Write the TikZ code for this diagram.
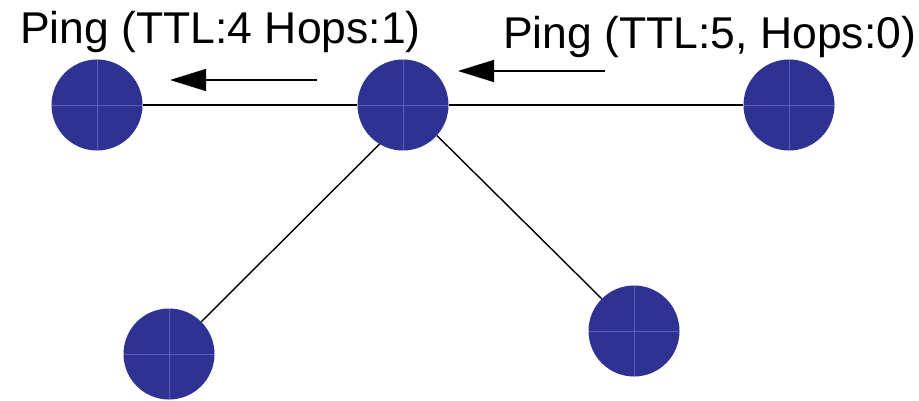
\documentclass[tikz,border=0pt]{standalone}
\usepackage{fontspec}
\setmainfont{Liberation Sans}
\usetikzlibrary{arrows.meta}
\definecolor{peerblue}{RGB}{46,50,146}
\definecolor{peercross}{RGB}{92,96,180}
\tikzset{
  peer/.style={circle,fill=peerblue,minimum size=91pt,inner sep=0pt,
    path picture={
      \draw[peercross,line width=.8pt]
        (path picture bounding box.north) -- (path picture bounding box.south)
        (path picture bounding box.west) -- (path picture bounding box.east);}},
  link/.style={line width=1.4pt},
  msg/.style={line width=1.4pt,-{Triangle[length=36pt,width=22pt]}},
  pinglabel/.style={anchor=base west,inner sep=0pt,font=\fontsize{44.5}{44.5}\selectfont}
}
\begin{document}
\begin{tikzpicture}[x=1pt,y=1pt]
  \useasboundingbox (0,0) rectangle (919,400);
  \def\top{295}
  % the peers
  \node[peer] (left) at (97,\top) {};
  \node[peer] (hub) at (403,\top) {};
  \node[peer] (right) at (789,\top) {};
  \node[peer] (bl) at (169,46) {};
  \node[peer] (br) at (634,69) {};
  % links between peers
  \draw[link] (left.east) -- (hub.west);
  \draw[link] (hub.east) -- (right.west);
  \draw[link] (bl.45) -- (hub.239);
  \draw[link] (hub.318) -- (br.135);
  % messages
  \coordinate (m1s) at (317,320);
  \coordinate (m1e) at (170,320);
  \coordinate (m2s) at (605,329);
  \coordinate (m2e) at (458,329);
  \draw[msg] (m1s) -- (m1e);
  \draw[msg] (m2s) -- (m2e);
  \node[pinglabel] (ping1) at (20,356) {Ping (TTL:4 Hops:1)};
  \node[pinglabel] (ping2) at (503,351) {Ping (TTL:5, Hops:0)};
\end{tikzpicture}
\end{document}
